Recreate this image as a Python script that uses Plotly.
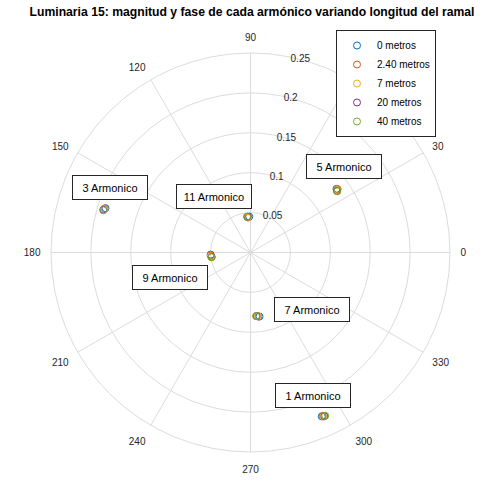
import plotly.graph_objects as go

harmonics = ["1 Armonico", "3 Armonico", "5 Armonico", "7 Armonico", "9 Armonico", "11 Armonico"]
series_names = ["0 metros", "2.40 metros", "7 metros", "20 metros", "40 metros"]
colors = ["#0072BD", "#D95319", "#EDB120", "#7E2F8E", "#77AC30"]

mag_0m = [0.224, 0.190, 0.134, 0.081, 0.050, 0.045]
pha_0m = [293.5, 163.0, 36.5, 278.0, 183.0, 92.0]
mag_240m = [0.224, 0.191, 0.135, 0.081, 0.050, 0.044]
pha_240m = [293.8, 163.3, 36.0, 277.0, 184.5, 93.5]
mag_7m = [0.225, 0.191, 0.134, 0.080, 0.050, 0.044]
pha_7m = [294.0, 163.5, 35.8, 276.5, 185.5, 94.5]
mag_20m = [0.225, 0.192, 0.133, 0.080, 0.049, 0.045]
pha_20m = [294.3, 163.8, 35.5, 275.5, 186.5, 95.0]
mag_40m = [0.225, 0.192, 0.133, 0.080, 0.049, 0.045]
pha_40m = [294.6, 164.0, 35.2, 275.0, 187.0, 95.5]

mags = [mag_0m, mag_240m, mag_7m, mag_20m, mag_40m]
phas = [pha_0m, pha_240m, pha_7m, pha_20m, pha_40m]

radial_ticks = [0.05, 0.1, 0.15, 0.2, 0.25]
radial_labels = ["0.05", "0.1", "0.15", "0.2", "0.25"]
angle_ticks = list(range(0, 360, 30))

# label box centres (paper pixel coords) for each harmonic
label_px = {
    "1 Armonico": (313, 395),
    "3 Armonico": (110, 187),
    "5 Armonico": (344, 166),
    "7 Armonico": (312, 309),
    "9 Armonico": (170, 277),
    "11 Armonico": (214, 196),
}

W, H = 486, 481
fig = go.Figure()
for name, col, m, p in zip(series_names, colors, mags, phas):
    fig.add_trace(go.Scatterpolar(
        r=m, theta=p, mode="markers", name=name,
        marker=dict(symbol="circle-open", size=7, color=col, line=dict(width=1, color=col)),
    ))

annotations = []
for h in harmonics:
    px, py = label_px[h]
    annotations.append(dict(
        text=h, x=px / W, y=1 - py / H, xref="paper", yref="paper",
        xanchor="center", yanchor="middle",
        showarrow=False, font=dict(size=11, color="#000000", family="Liberation Sans, Arial"),
        bgcolor="white", bordercolor="#262626", borderwidth=1, borderpad=2,
        width=70, height=19, align="center",
    ))

fig.update_layout(
    width=W, height=H,
    margin=dict(l=0, r=0, t=0, b=0),
    paper_bgcolor="white",
    font=dict(family="Liberation Sans, Arial", size=10, color="#262626"),
    title=dict(
        text="<b>Luminaria 15: magnitud y fase de cada armónico variando longitud del ramal</b>",
        x=252 / W, xanchor="center", y=1 - 12 / H, yanchor="middle",
        font=dict(size=12.2, color="#000000"),
    ),
    polar=dict(
        domain=dict(x=[50 / W, 451 / W], y=[29 / H, 428 / H]),
        bgcolor="white",
        angularaxis=dict(
            direction="counterclockwise", rotation=0,
            tickmode="array", tickvals=angle_ticks, ticktext=[str(a) for a in angle_ticks],
            showgrid=True, gridcolor="#dcdcdc", gridwidth=1,
            showline=True, linecolor="#dcdcdc", linewidth=1,
            ticks="outside", ticklen=8, tickcolor="rgba(0,0,0,0)",
            tickfont=dict(size=10, color="#262626"),
        ),
        radialaxis=dict(
            range=[0, 0.25], angle=80, tickangle=80,
            tickmode="array", tickvals=radial_ticks, ticktext=radial_labels,
            showgrid=True, gridcolor="#dcdcdc", gridwidth=1,
            showline=False, ticks="", tickfont=dict(size=10, color="#262626"),
        ),
    ),
    legend=dict(
        x=336 / W, y=1 - 30 / H, xanchor="left", yanchor="top",
        bgcolor="white", bordercolor="#262626", borderwidth=1,
        font=dict(size=10, color="#000000"),
    ),
    annotations=annotations,
)

fig.write_html("out.html", config={"displayModeBar": False},
               post_script="document.body.style.margin='0';")
